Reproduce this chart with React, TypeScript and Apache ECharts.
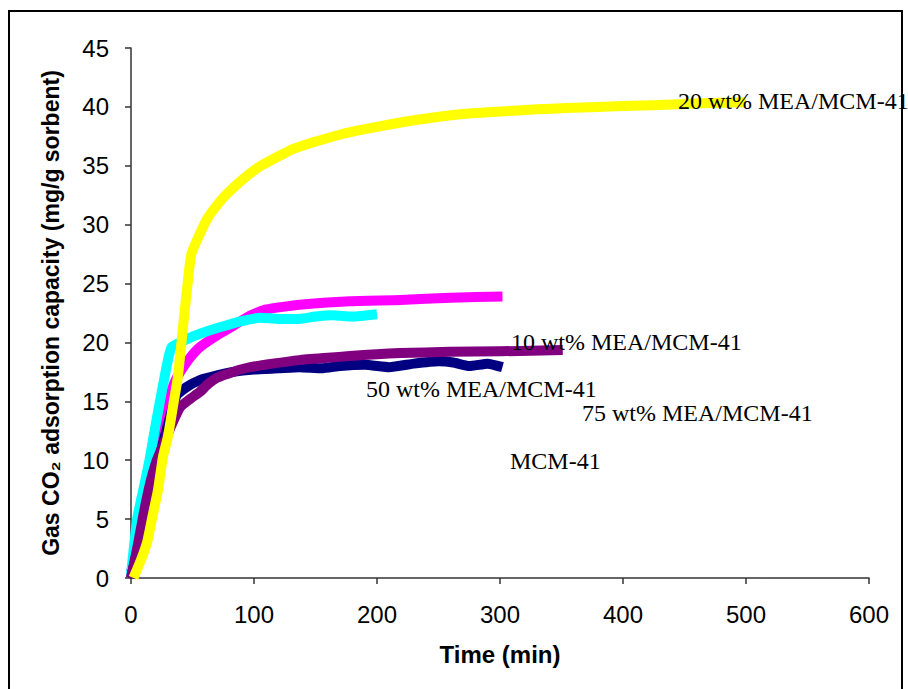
import React, { useEffect, useRef } from "react";
import * as echarts from "echarts";

// [time (min), capacity (mg/g sorbent)]
const wt20: number[][] = [
  [2, 0], [8, 1.5], [13, 3], [17, 5], [22, 7.5], [26, 10.3], [30, 12], [34, 14.5], [38, 17], [42, 21],
  [46, 25], [49, 27.5], [55, 29], [62, 30.5], [68, 31.4], [76, 32.4], [85, 33.3], [95, 34.2], [104, 34.9],
  [118, 35.7], [131, 36.4], [145, 36.9], [158, 37.3], [172, 37.7], [185, 38.0], [200, 38.3], [220, 38.7],
  [246, 39.1], [270, 39.4], [300, 39.6], [330, 39.8], [354, 39.9], [380, 40.0], [408, 40.1], [440, 40.2],
  [463, 40.3], [500, 40.4],
];
const wt75: number[][] = [
  [0, 0.5], [5, 2.5], [10, 5], [15, 8], [20, 11], [25, 13.5], [30, 15], [35, 16.5], [40, 17.5], [48, 18.7],
  [56, 19.6], [70, 20.6], [83, 21.4], [97, 22.3], [110, 22.8], [137, 23.2], [178, 23.5], [219, 23.6],
  [260, 23.8], [302, 23.9],
];
const mcm41: number[][] = [
  [0, 0.3], [5, 5], [10, 7.5], [15, 10], [20, 13], [25, 15.8], [30, 18.5], [33, 19.6], [40, 20], [50, 20.5],
  [63, 21], [76, 21.4], [90, 21.8], [105, 22.1], [120, 22.0], [137, 22.0], [150, 22.2], [164, 22.3],
  [180, 22.2], [200, 22.4],
];
const wt50: number[][] = [
  [0, 0], [10, 4.5], [20, 9], [30, 13], [37, 15.5], [45, 16.2], [56, 16.8], [70, 17.2], [83, 17.5],
  [100, 17.7], [120, 17.8], [137, 17.9], [155, 17.8], [170, 18.0], [190, 18.1], [210, 17.9], [230, 18.2],
  [250, 18.4], [262, 18.3], [275, 18.0], [290, 18.2], [302, 17.9],
];
const wt10: number[][] = [
  [0, 0], [5, 2.5], [10, 5.3], [15, 7.8], [21, 10], [27, 11.5], [33, 13], [40, 14.5], [48, 15.2], [56, 15.8],
  [63, 16.5], [70, 17], [83, 17.5], [97, 17.9], [115, 18.2], [137, 18.5], [160, 18.7], [178, 18.85],
  [200, 19], [219, 19.1], [259, 19.2], [300, 19.25], [351, 19.35],
];

const labelTexts = ["20 wt% MEA/MCM-41", "10 wt% MEA/MCM-41", "50 wt% MEA/MCM-41", "75 wt% MEA/MCM-41", "MCM-41"];

export default function App() {
  const ref = useRef<HTMLDivElement>(null);
  useEffect(() => {
    if (!ref.current) return;
    const chart = echarts.init(ref.current, null, { renderer: "svg" });
    const sans = "'Liberation Sans', Arial, sans-serif";
    const serif = "'Liberation Serif', 'Times New Roman', serif";
    const mk = (name: string, data: number[][], color: string, z: number) => ({
      type: "line",
      name,
      data,
      showSymbol: false,
      symbol: "none",
      smooth: 0.15,
      z,
      lineStyle: { color, width: 10, cap: "butt", join: "round" },
    });
    const labelPos = [
      [678, 101], [511, 342], [366, 389], [582, 413], [510, 461],
    ];
    chart.setOption({
      animation: false,
      backgroundColor: "#ffffff",
      grid: { left: 131, right: 39, top: 48, bottom: 111, containLabel: false },
      xAxis: {
        type: "value",
        min: 0,
        max: 600,
        interval: 100,
        name: "Time (min)",
        nameLocation: "middle",
        nameGap: 64,
        nameTextStyle: { fontFamily: sans, fontWeight: "bold", fontSize: 24, color: "#000" },
        axisLine: { show: true, lineStyle: { color: "#333", width: 1.5 } },
        axisTick: { show: true, inside: false, length: 6, lineStyle: { color: "#333", width: 1.5 } },
        axisLabel: { fontFamily: sans, fontSize: 24, color: "#000", margin: 24 },
        splitLine: { show: false },
      },
      yAxis: {
        type: "value",
        min: 0,
        max: 45,
        interval: 5,
        name: "Gas CO₂ adsorption capacity (mg/g sorbent)",
        nameLocation: "middle",
        nameGap: 69,
        nameRotate: 90,
        nameTextStyle: { fontFamily: sans, fontWeight: "bold", fontSize: 23, color: "#000" },
        axisLine: { show: true, lineStyle: { color: "#333", width: 1.5 } },
        axisTick: { show: true, inside: false, length: 6, lineStyle: { color: "#333", width: 1.5 } },
        axisLabel: { fontFamily: sans, fontSize: 24, color: "#000", margin: 22 },
        splitLine: { show: false },
      },
      series: [
        mk("75 wt% MEA/MCM-41", wt75, "#FF00FF", 2),
        mk("MCM-41", mcm41, "#00FFFF", 3),
        mk("50 wt% MEA/MCM-41", wt50, "#000080", 4),
        mk("10 wt% MEA/MCM-41", wt10, "#800080", 5),
        mk("20 wt% MEA/MCM-41", wt20, "#FFFF00", 6),
      ],
      graphic: [
        {
          type: "rect",
          shape: { x: 9, y: 11, width: 893, height: 700 },
          style: { fill: "none", stroke: "#000", lineWidth: 2 },
          silent: true,
          z: 100,
        },
        ...labelTexts.map((t, i) => ({
          type: "text",
          x: labelPos[i][0],
          y: labelPos[i][1],
          z: 100,
          style: {
            text: t,
            fontFamily: serif,
            fontSize: 24,
            fill: "#000",
            textVerticalAlign: "middle",
            verticalAlign: "middle",
          },
        })),
      ],
    });
    return () => chart.dispose();
  }, []);
  return (
    <div
      ref={ref}
      style={{ position: "absolute", left: 0, top: 0, width: 908, height: 689 }}
    />
  );
}
